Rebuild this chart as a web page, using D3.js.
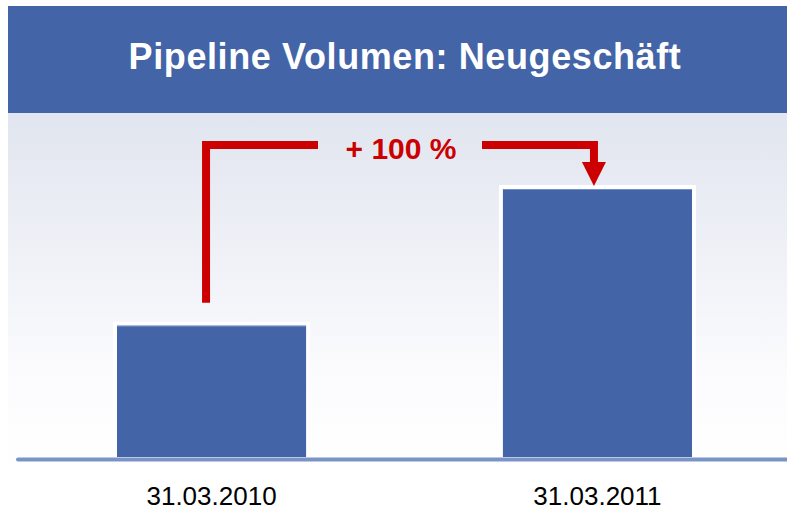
<!DOCTYPE html>
<html>
<head>
<meta charset="utf-8">
<script src="https://cdn.jsdelivr.net/npm/d3@7"></script>
<style>
  html, body { margin: 0; padding: 0; background: #ffffff; }
  svg { display: block; }
</style>
</head>
<body>
<svg id="chart"></svg>
<script>
const title = "Pipeline Volumen: Neugeschäft"
const categories = ["31.03.2010", "31.03.2011"]
const values = [49, 100]
const changeLabel = "+ 100 %"

const width = 787
const height = 511
const barColor = "#4364a7"
const red = "#cc0000"

const svg = d3.select("#chart")
    .attr("width", width)
    .attr("height", height)

// background gradient for the plot panel
const defs = svg.append("defs")
const grad = defs.append("linearGradient")
    .attr("id", "panelGrad")
    .attr("x1", 0).attr("y1", 0)
    .attr("x2", 0).attr("y2", 1)
grad.append("stop").attr("offset", "0%").attr("stop-color", "#e1e5ef")
grad.append("stop").attr("offset", "75%").attr("stop-color", "#fcfcfe")
grad.append("stop").attr("offset", "100%").attr("stop-color", "#ffffff")

svg.append("rect")
    .attr("x", 8)
    .attr("y", 113)
    .attr("width", width - 8)
    .attr("height", 360)
    .attr("fill", "url(#panelGrad)")

// header band
svg.append("rect")
    .attr("x", 8)
    .attr("y", 6)
    .attr("width", width - 8)
    .attr("height", 107)
    .attr("fill", barColor)

svg.append("text")
    .text(title)
    .attr("x", 405)
    .attr("y", 69)
    .attr("text-anchor", "middle")
    .attr("font-family", "Liberation Sans, Arial, sans-serif")
    .attr("font-weight", "bold")
    .attr("font-size", 36)
    .attr("letter-spacing", 0.6)
    .attr("fill", "white")

// scales
const x = d3.scaleBand()
    .domain(categories)
    .range([18, 791])
    .paddingInner(0.51)
    .paddingOuter(0.2565)

const y = d3.scaleLinear()
    .domain([0, 100])
    .range([457, 189])

// bars with white border
const bars = svg.append("g")
bars.selectAll("rect.border")
    .data(values)
    .join("rect")
    .attr("class", "border")
    .attr("x", (d, i) => x(categories[i]) - 4)
    .attr("y", d => y(d) - 4)
    .attr("width", x.bandwidth() + 8)
    .attr("height", d => y(0) - y(d) + 4)
    .attr("fill", "white")

bars.selectAll("rect.bar")
    .data(values)
    .join("rect")
    .attr("class", "bar")
    .attr("x", (d, i) => x(categories[i]))
    .attr("y", d => y(d))
    .attr("width", x.bandwidth())
    .attr("height", d => y(0) - y(d))
    .attr("fill", barColor)

bars.selectAll("line.hi")
    .data(values)
    .join("line")
    .attr("class", "hi")
    .attr("x1", (d, i) => x(categories[i]))
    .attr("x2", (d, i) => x(categories[i]) + x.bandwidth())
    .attr("y1", d => y(d) + 0.5)
    .attr("y2", d => y(d) + 0.5)
    .attr("stroke", "#7391c8")
    .attr("stroke-width", 1)

// baseline
svg.append("line")
    .attr("x1", 18)
    .attr("x2", width + 5)
    .attr("y1", y(0) + 2.5)
    .attr("y2", y(0) + 2.5)
    .attr("stroke", "#7a94c8")
    .attr("stroke-width", 4)
    .attr("stroke-linecap", "round")

// category labels
svg.selectAll("text.cat")
    .data(categories)
    .join("text")
    .attr("class", "cat")
    .text(d => d)
    .attr("x", d => x(d) + x.bandwidth() / 2)
    .attr("y", 505)
    .attr("text-anchor", "middle")
    .attr("font-family", "Liberation Sans, Arial, sans-serif")
    .attr("font-size", 26)
    .attr("fill", "black")

// growth arrow
const cx0 = x(categories[0]) + x.bandwidth() / 2 - 5.5
const cx1 = x(categories[1]) + x.bandwidth() / 2 - 3.5
const topY = y(100) - 44

svg.append("path")
    .attr("d", `M${cx0},${y(values[0]) - 23} V${topY} H318`)
    .attr("fill", "none")
    .attr("stroke", red)
    .attr("stroke-width", 8)
    .attr("stroke-linejoin", "miter")

svg.append("path")
    .attr("d", `M482,${topY} H${cx1} V${y(100) - 26}`)
    .attr("fill", "none")
    .attr("stroke", red)
    .attr("stroke-width", 8)
    .attr("stroke-linejoin", "miter")

svg.append("path")
    .attr("d", `M${cx1 - 12},${y(100) - 27} L${cx1 + 12},${y(100) - 27} L${cx1},${y(100) - 3} Z`)
    .attr("fill", red)

svg.append("text")
    .text(changeLabel)
    .attr("x", 401)
    .attr("y", 159)
    .attr("text-anchor", "middle")
    .attr("font-family", "Liberation Sans, Arial, sans-serif")
    .attr("font-weight", "bold")
    .attr("font-size", 30)
    .attr("fill", red)
</script>
</body>
</html>
